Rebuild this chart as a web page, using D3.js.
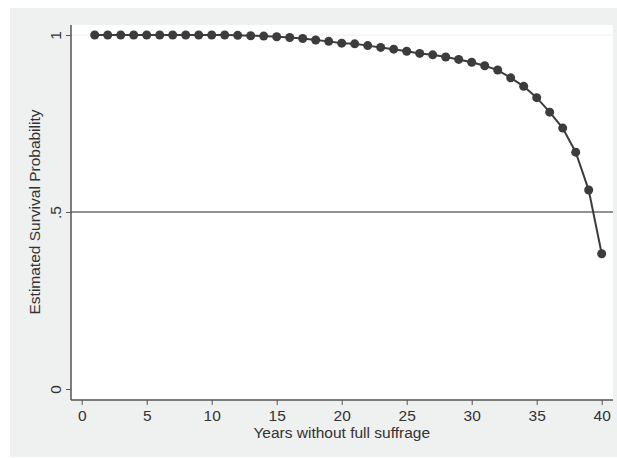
<!DOCTYPE html>
<html>
<head>
<meta charset="utf-8">
<script src="https://cdn.jsdelivr.net/npm/d3@7"></script>
<style>
  body { margin: 0; background: #fff; }
  text { font-family: "Liberation Sans", Arial, sans-serif; fill: #333; }
</style>
</head>
<body>
<div id="chart"></div>
<script>
// years without full suffrage
var years = d3.range(1, 41);
// estimated survival probability
var survival = [
  1.000, 1.000, 1.000, 1.000, 1.000, 1.000, 1.000, 1.000, 1.000, 1.000,
  1.000, 0.999, 0.998, 0.997, 0.995, 0.993, 0.990, 0.986, 0.982, 0.977,
  0.975, 0.970, 0.965, 0.960, 0.954, 0.948, 0.944, 0.938, 0.931, 0.923,
  0.913, 0.901, 0.879, 0.855, 0.823, 0.782, 0.737, 0.669, 0.562, 0.382
];
var xTicks = [0, 5, 10, 15, 20, 25, 30, 35, 40];
var yTicks = [0, 0.5, 1];
var yTickLabels = ["0", ".5", "1"];
var refLine = 0.5;

var width = 617, height = 458;
var plot = { left: 71, right: 613, top: 25, bottom: 400 };
var fontSize = "15.5px";

var svg = d3.select("#chart").append("svg")
  .attr("width", width)
  .attr("height", height);

svg.append("rect")
  .attr("x", 10).attr("y", 8)
  .attr("width", width - 10).attr("height", 449)
  .attr("fill", "#eff0f0");

svg.append("rect")
  .attr("x", plot.left).attr("y", plot.top)
  .attr("width", plot.right - plot.left).attr("height", plot.bottom - plot.top)
  .attr("fill", "#fff");

var x = d3.scaleLinear().domain([0, 40]).range([81.7, 601.7]);
var y = d3.scaleLinear().domain([0, 1]).range([389, 35]);

// faint grid line at the top label
svg.append("line")
  .attr("x1", plot.left).attr("x2", plot.right)
  .attr("y1", y(1)).attr("y2", y(1))
  .attr("stroke", "#ececec").attr("stroke-width", 1);

// reference line at .5
svg.append("line")
  .attr("x1", plot.left).attr("x2", plot.right)
  .attr("y1", y(refLine)).attr("y2", y(refLine))
  .attr("stroke", "#6e6e6e").attr("stroke-width", 1.3);

// axes
var xAxis = d3.axisBottom(x).tickValues(xTicks).tickSize(5).tickPadding(5);
var gx = svg.append("g")
  .attr("transform", "translate(0," + plot.bottom + ")")
  .call(xAxis);
gx.select(".domain").remove();
gx.append("line")
  .attr("x1", plot.left).attr("x2", plot.right)
  .attr("stroke", "#555").attr("stroke-width", 1.5);
gx.selectAll(".tick line").attr("stroke", "#555");
gx.selectAll(".tick text")
  .attr("font-size", fontSize)
  .attr("fill", "#333")
  .attr("font-family", "Liberation Sans, Arial, sans-serif");

var yAxis = d3.axisLeft(y).tickValues(yTicks).tickSize(5)
  .tickFormat(function(d, i) { return yTickLabels[i]; });
var gy = svg.append("g")
  .attr("transform", "translate(" + plot.left + ",0)")
  .call(yAxis);
gy.select(".domain").remove();
gy.append("line")
  .attr("y1", plot.top).attr("y2", plot.bottom)
  .attr("stroke", "#555").attr("stroke-width", 1.5);
gy.selectAll(".tick line").attr("stroke", "#555");
gy.selectAll(".tick text")
  .attr("x", null).attr("dy", null)
  .attr("text-anchor", "middle")
  .attr("transform", "translate(-15,0) rotate(-90)")
  .attr("dy", "0.35em")
  .attr("font-size", fontSize)
  .attr("fill", "#333")
  .attr("font-family", "Liberation Sans, Arial, sans-serif");

// axis titles
svg.append("text")
  .attr("x", x(20)).attr("y", 438)
  .attr("text-anchor", "middle")
  .attr("font-size", fontSize)
  .text("Years without full suffrage");

svg.append("text")
  .attr("transform", "translate(40," + y(0.5) + ") rotate(-90)")
  .attr("text-anchor", "middle")
  .attr("font-size", fontSize)
  .text("Estimated Survival Probability");

// survival curve
var pts = years.map(function(d, i) { return [d, survival[i]]; });
var line = d3.line()
  .x(function(d) { return x(d[0]); })
  .y(function(d) { return y(d[1]); });

svg.append("path")
  .datum(pts)
  .attr("d", line)
  .attr("fill", "none")
  .attr("stroke", "#3c3c3c")
  .attr("stroke-width", 2);

svg.selectAll(".pt")
  .data(pts).enter().append("circle")
  .attr("class", "pt")
  .attr("cx", function(d) { return x(d[0]); })
  .attr("cy", function(d) { return y(d[1]); })
  .attr("r", 4.5)
  .attr("fill", "#3c3c3c");
</script>
</body>
</html>
